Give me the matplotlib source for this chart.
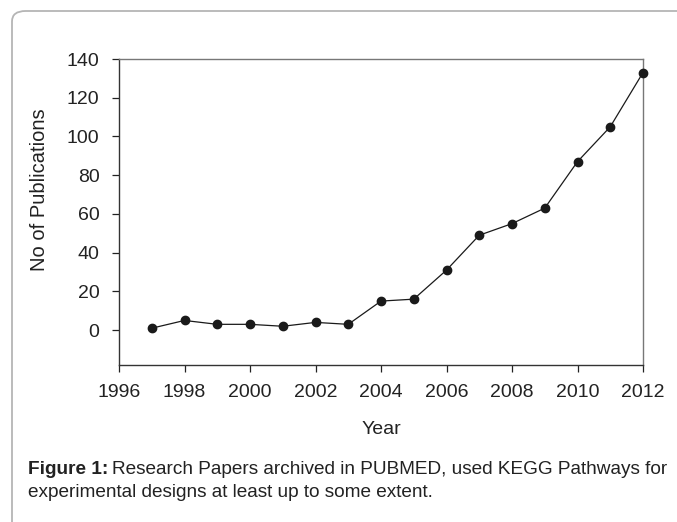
import matplotlib
matplotlib.use('Agg')
import matplotlib.pyplot as plt
from matplotlib.patches import FancyBboxPatch

plt.rcParams['font.family'] = ['Liberation Sans', 'DejaVu Sans']

# data
years = [1997, 1998, 1999, 2000, 2001, 2002, 2003, 2004,
         2005, 2006, 2007, 2008, 2009, 2010, 2011, 2012]
pubs = [1, 5, 3, 3, 2, 4, 3, 15, 16, 31, 49, 55, 63, 87, 105, 133]
x_ticks = [1996, 1998, 2000, 2002, 2004, 2006, 2008, 2010, 2012]
y_ticks = [0, 20, 40, 60, 80, 100, 120, 140]

W, H = 677, 522
fig = plt.figure(figsize=(W / 100, H / 100), dpi=100)

# outer frame with rounded top-left corner
frame = FancyBboxPatch((12 / W, -0.2), 1.2, (H - 11) / H + 0.2,
                       boxstyle='round,pad=0,rounding_size=0.02',
                       transform=fig.transFigure, fill=False,
                       edgecolor='#b5b5b5', linewidth=1.3)
fig.patches.append(frame)

ax = fig.add_axes([119 / W, (H - 365) / H, (643 - 119) / W, (365 - 59) / H])
ax.plot(years, pubs, color='#1a1a1a', linewidth=0.9, marker='o',
        markersize=6, markerfacecolor='#1a1a1a', markeredgecolor='#1a1a1a',
        clip_on=False, zorder=3)

ax.set_xlim(1996, 2012)
ax.set_ylim(-18, 140)
ax.set_xticks(x_ticks)
ax.set_yticks(y_ticks)
ax.tick_params(axis='both', direction='out', length=5, width=0.9,
               colors='#222222', labelsize=14)
ax.tick_params(axis='x', pad=9)
ax.tick_params(axis='y', pad=9)

for side in ['left', 'bottom']:
    ax.spines[side].set_color('#333333')
    ax.spines[side].set_linewidth(1.0)
for side in ['top', 'right']:
    ax.spines[side].set_color('#777777')
    ax.spines[side].set_linewidth(1.0)

fig.text(381 / W, 1 - 430 / H, 'Year', ha='center', va='center',
         fontsize=14, color='#222222')
fig.text(40 / W, 1 - 190 / H, 'No of Publications', ha='center',
         va='center', rotation=90, fontsize=14.5, color='#222222')

# caption
cap1 = fig.text(28 / W, 1 - 474 / H, 'Figure 1:', ha='left', va='baseline',
                fontsize=13.7, fontweight='bold', color='#222222')
fig.text(112 / W, 1 - 474 / H,
         'Research Papers archived in PUBMED, used KEGG Pathways for',
         ha='left', va='baseline', fontsize=13.7, color='#222222')
fig.text(28 / W, 1 - 497 / H,
         'experimental designs at least up to some extent.',
         ha='left', va='baseline', fontsize=13.7, color='#222222')

fig.savefig('out.png', dpi=100)
